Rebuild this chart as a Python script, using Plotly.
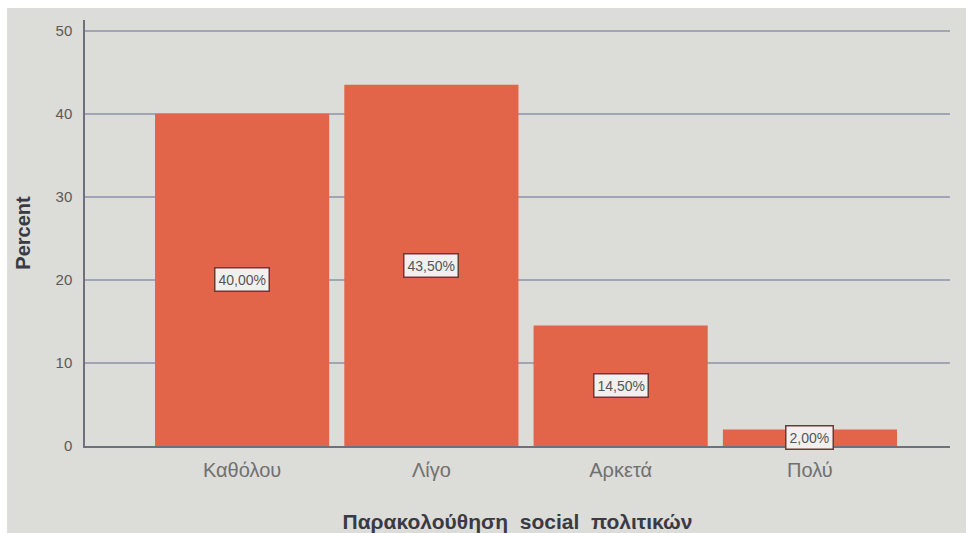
import plotly.graph_objects as go

# Survey responses: how often respondents follow politicians on social media
categories = ["Καθόλου", "Λίγο", "Αρκετά", "Πολύ"]
percents = [40.0, 43.5, 14.5, 2.0]
y_ticks = [0, 10, 20, 30, 40, 50]

W, H = 966, 533
L, R, T, B = 85, 16, 20, 87
plot_w = W - L - R
plot_h = H - T - B

bar_color = "#e2654a"
bg_color = "#dcdcd9"
grid_color = "#a0a4b6"


def fmt(v):
    return f"{v:.2f}".replace(".", ",") + "%"


fig = go.Figure(
    go.Bar(
        x=categories,
        y=percents,
        marker=dict(color=bar_color, line=dict(width=0)),
        hoverinfo="skip",
    )
)

# Value labels in framed boxes, centred in each bar
for cat, val in zip(categories, percents):
    fig.add_annotation(
        x=cat,
        y=val / 2,
        text=fmt(val),
        showarrow=False,
        font=dict(family="Liberation Sans, Arial, sans-serif", size=14, color="#555555"),
        bgcolor="#f1f0ee",
        bordercolor="#6b3a35",
        borderwidth=1.5,
        borderpad=3,
    )

# Thin white strips along the top and left edges
fig.add_shape(type="rect", xref="paper", yref="paper",
              x0=-L / plot_w, x1=(7 - L) / plot_w, y0=-B / plot_h, y1=1 + T / plot_h,
              fillcolor="white", line=dict(width=0), layer="above")
fig.add_shape(type="rect", xref="paper", yref="paper",
              x0=-L / plot_w, x1=1 + R / plot_w, y0=1 + (T - 8) / plot_h, y1=1 + T / plot_h,
              fillcolor="white", line=dict(width=0), layer="above")

fig.update_layout(
    width=W,
    height=H,
    margin=dict(l=L, r=R, t=T, b=B),
    paper_bgcolor=bg_color,
    plot_bgcolor=bg_color,
    bargap=0.08,
    showlegend=False,
    font=dict(family="Liberation Sans, Arial, sans-serif"),
    xaxis=dict(
        range=[-0.83, 3.74],
        automargin=False,
        showgrid=False,
        showline=True,
        linecolor="#6e717c",
        linewidth=1.5,
        ticks="",
        ticklabelstandoff=5,
        tickfont=dict(size=20, color="#707070"),
        title=dict(
            text="<b>Παρακολούθηση  social  πολιτικών</b>",
            font=dict(size=21, color="#3a3a44"),
            standoff=36,
        ),
    ),
    yaxis=dict(
        range=[0, 51.3],
        automargin=False,
        tickvals=y_ticks,
        showgrid=True,
        gridcolor=grid_color,
        gridwidth=1.5,
        zeroline=False,
        showline=True,
        linecolor="#6e717c",
        linewidth=1.5,
        ticks="",
        ticklabelstandoff=8,
        tickfont=dict(size=15, color="#5a5a5a"),
        title=dict(
            text="<b>Percent</b>",
            font=dict(size=20, color="#3a3a44"),
            standoff=20,
        ),
    ),
)

fig.write_html("out.html")
